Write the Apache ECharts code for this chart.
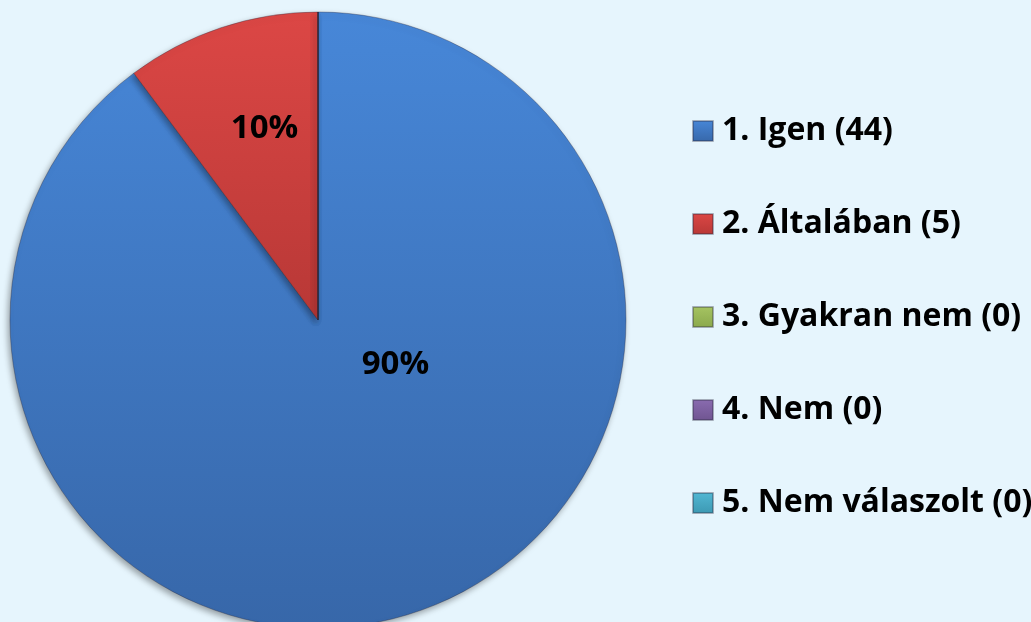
<!DOCTYPE html>
<html>
<head>
<meta charset="utf-8">
<script src="https://cdn.jsdelivr.net/npm/echarts@6/dist/echarts.min.js"></script>
<style>
  html, body { margin: 0; padding: 0; background: #e6f5fd; }
  #chart { width: 1031px; height: 622px; }
</style>
</head>
<body>
<div id="chart"></div>
<script>
const categories = ['1. Igen', '2. Általában', '3. Gyakran nem', '4. Nem', '5. Nem válaszolt']
const values = [44, 5, 0, 0, 0]
const colorTop = ['#4787d8', '#dc4745', '#a6c462', '#8a6cb0', '#52b8d4']
const colorBottom = ['#3767a9', '#b83836', '#8aa84c', '#6f5490', '#3c98b2']
// label nudges so the percentages sit where Excel put them
const labelOffsets = [[28, -104], [-4, -42], [0, 0], [0, 0], [0, 0]]

const chart = echarts.init(document.getElementById('chart'))

const grad = i => new echarts.graphic.LinearGradient(0, 0, 0, 1, [
  { offset: 0, color: colorTop[i] },
  { offset: 1, color: colorBottom[i] }
])

const pieData = categories.map((name, i) => ({
  name,
  value: values[i],
  itemStyle: { color: grad(i) },
  label: { show: values[i] > 0, offset: labelOffsets[i] }
}))

chart.setOption({
  backgroundColor: '#e6f5fd',
  animation: false,
  legend: {
    orient: 'vertical',
    left: 687,
    top: 110,
    icon: 'rect',
    itemWidth: 20,
    itemHeight: 20,
    itemGap: 61,
    formatter: name => {
      const i = categories.indexOf(name)
      return `${name} (${values[i]})`
    },
    textStyle: {
      fontFamily: 'Open Sans',
      fontWeight: 'bold',
      fontSize: 32,
      color: '#000',
      padding: [0, 0, 0, 4]
    }
  },
  series: [{
    type: 'pie',
    center: [318, 320],
    radius: 308,
    startAngle: 90,
    clockwise: true,
    avoidLabelOverlap: false,
    stillShowZeroSum: false,
    itemStyle: {
      borderColor: 'rgba(40,40,60,0.35)',
      borderWidth: 1,
      shadowColor: 'rgba(0,0,0,0.35)',
      shadowBlur: 6,
      shadowOffsetX: -2,
      shadowOffsetY: 3
    },
    label: {
      position: 'inside',
      formatter: p => Math.round(p.percent) + '%',
      fontFamily: 'Open Sans',
      fontWeight: 'bold',
      fontSize: 33,
      color: '#000'
    },
    labelLine: { show: false },
    emphasis: { disabled: true },
    data: pieData
  }]
})
</script>
</body>
</html>
